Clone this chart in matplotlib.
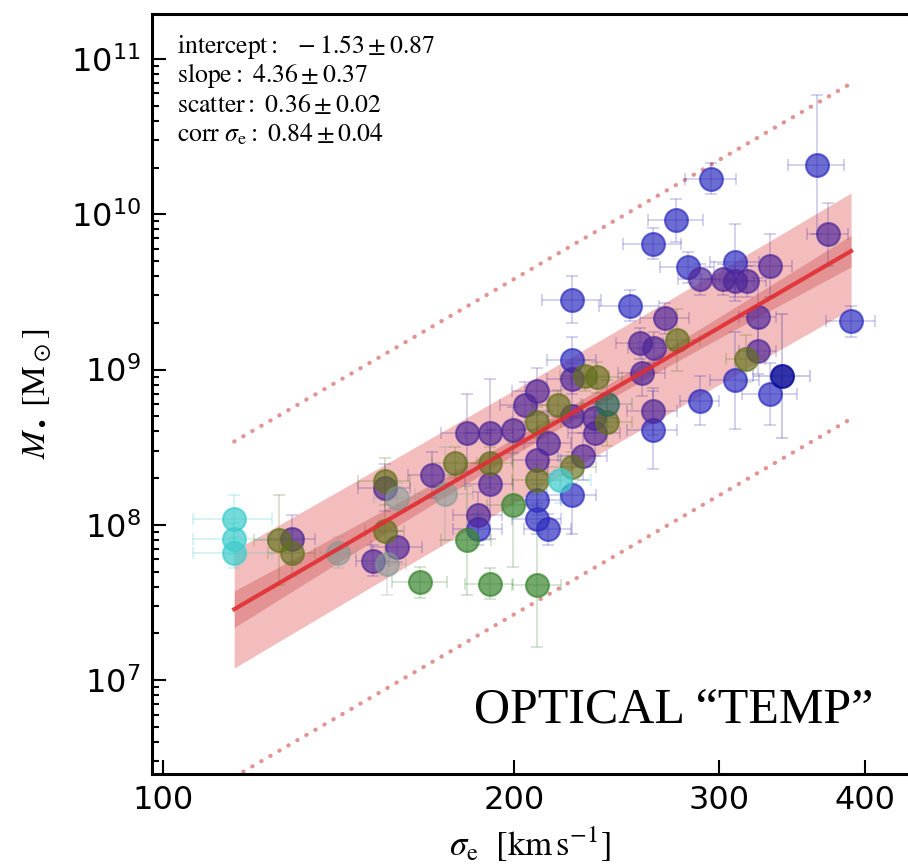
import numpy as np
import matplotlib.pyplot as plt
from matplotlib.ticker import FixedLocator, NullLocator, ScalarFormatter, LogLocator

plt.rcParams['font.family'] = ['DejaVu Sans']

# velocity dispersion [km/s], log10 black hole mass, errors and colour group per galaxy
sigma = [115.1, 115.1, 115.1, 125.8, 129.0, 129.0, 141.3, 155.0, 155.0, 158.7,
         155.0, 158.7, 151.4, 155.6, 166.2, 170.2, 178.0, 174.6, 190.7, 190.7,
         199.6, 186.3, 186.3, 182.3, 209.3, 209.3, 213.9, 209.3, 209.3, 190.7,
         209.3, 182.3, 190.7, 199.6, 209.3, 213.9, 229.2, 224.3, 219.0, 224.3,
         209.3, 204.4, 218.2, 240.3, 224.3, 234.2, 240.3, 234.7, 263.2, 263.2,
         224.3, 224.3, 230.1, 235.6, 257.5, 256.5, 263.7, 276.0, 269.5, 224.3,
         251.5, 263.2, 275.4, 295.1, 363.9, 371.8, 282.0, 309.4, 331.6, 288.7,
         302.2, 309.4, 316.9, 323.8, 389.2, 323.8, 316.2, 309.4, 339.6, 331.6,
         288.7]
log_mbh = [8.04, 7.91, 7.82, 7.90, 7.91, 7.82, 7.82, 8.28, 8.24, 8.17,
           7.96, 7.86, 7.77, 7.75, 7.63, 8.32, 8.40, 8.20, 8.40, 8.26,
           8.13, 8.06, 7.97, 7.90, 8.16, 8.04, 7.97, 8.42, 8.29, 7.62,
           7.61, 8.59, 8.59, 8.61, 8.66, 8.53, 8.44, 8.37, 8.29, 8.19,
           8.86, 8.77, 8.77, 8.78, 8.70, 8.69, 8.66, 8.59, 8.73, 8.61,
           9.06, 8.94, 8.96, 8.95, 8.98, 9.17, 9.14, 9.19, 9.33, 9.45,
           9.41, 9.81, 9.96, 10.23, 10.32, 9.87, 9.66, 9.69, 9.67, 9.58,
           9.58, 9.57, 9.57, 9.34, 9.31, 9.12, 9.07, 8.93, 8.96, 8.84,
           8.80]
sigma_err = [9, 9, 9, 6, 6, 6, 5, 8, 8, 7,
             6, 8, 5, 6, 9, 8, 8, 10, 9, 9,
             10, 9, 9, 9, 10, 10, 10, 10, 10, 9,
             10, 9, 9, 10, 10, 10, 11, 11, 14, 11,
             10, 10, 11, 12, 11, 11, 12, 12, 13, 13,
             11, 11, 11, 12, 12, 12, 13, 13, 13, 13,
             15, 15, 15, 15, 20, 15, 15, 15, 15, 12,
             12, 12, 12, 12, 19, 12, 12, 15, 19, 18,
             11]
log_mbh_err = [0.15, 0.10, 0.10, 0.29, 0.15, 0.15, 0.10, 0.15, 0.15, 0.10,
               0.20, 0.10, 0.10, 0.20, 0.10, 0.15, 0.10, 0.30, 0.10, 0.35,
               0.40, 0.15, 0.10, 0.35, 0.10, 0.10, 0.10, 0.30, 0.10, 0.10,
               0.40, 0.25, 0.35, 0.15, 0.10, 0.20, 0.15, 0.10, 0.15, 0.25,
               0.15, 0.15, 0.10, 0.15, 0.30, 0.10, 0.15, 0.15, 0.15, 0.25,
               0.15, 0.10, 0.10, 0.10, 0.15, 0.10, 0.10, 0.20, 0.10, 0.15,
               0.10, 0.10, 0.14, 0.10, 0.45, 0.20, 0.10, 0.25, 0.20, 0.10,
               0.10, 0.10, 0.10, 0.25, 0.10, 0.15, 0.15, 0.31, 0.40, 0.20,
               0.16]
group = ['C', 'C', 'C', 'O', 'P', 'O', 'Y', 'O', 'P', 'Y',
         'O', 'P', 'P', 'Y', 'G', 'P', 'O', 'Y', 'O', 'P',
         'G', 'P', 'B', 'G', 'B', 'B', 'B', 'P', 'O', 'G',
         'G', 'P', 'P', 'P', 'O', 'P', 'P', 'O', 'C', 'B',
         'P', 'P', 'O', 'T', 'P', 'P', 'O', 'P', 'P', 'B',
         'B', 'P', 'O', 'O', 'P', 'P', 'P', 'O', 'P', 'B',
         'B', 'B', 'B', 'B', 'B', 'P', 'B', 'B', 'P', 'P',
         'P', 'P', 'P', 'P', 'B', 'P', 'O', 'B', 'D', 'B',
         'B']

# fit results
intercept, intercept_err = -1.53, 0.87
slope, slope_err = 4.36, 0.37
scatter, scatter_err = 0.36, 0.02
corr, corr_err = 0.84, 0.04
pivot, pivot_err = 2.35, 0.05

colors = {
    'B': ((0.18, 0.18, 0.75), 0.70),
    'P': ((0.30, 0.15, 0.60), 0.68),
    'G': ((0.22, 0.52, 0.18), 0.70),
    'O': ((0.38, 0.44, 0.10), 0.66),
    'C': ((0.25, 0.80, 0.80), 0.72),
    'Y': ((0.50, 0.60, 0.58), 0.55),
    'D': ((0.05, 0.05, 0.60), 0.85),
    'T': ((0.15, 0.40, 0.35), 0.70),
}

sigma = np.array(sigma)
log_mbh = np.array(log_mbh)
sigma_err = np.array(sigma_err)
log_mbh_err = np.array(log_mbh_err)
group = np.array(group)
mbh = 10 ** log_mbh

fig = plt.figure(figsize=(9.08, 8.68), dpi=100)
ax = fig.add_axes([152 / 908, 94 / 868, 756 / 908, 760 / 868])
ax.set_xscale('log')
ax.set_yscale('log')

# fit line, intrinsic scatter band and 3-sigma lines
lx = np.linspace(np.log10(sigma.min()), np.log10(sigma.max()), 200)
ly = intercept + slope * lx
fit_w = np.sqrt(pivot_err ** 2 + (slope_err * (lx - pivot)) ** 2)
tot_w = np.sqrt(scatter ** 2 + fit_w ** 2)
red = (0.86, 0.2, 0.2)
ax.fill_between(10 ** lx, 10 ** (ly - tot_w), 10 ** (ly + tot_w), color=red, alpha=0.32, lw=0, zorder=1)
ax.fill_between(10 ** lx, 10 ** (ly - fit_w), 10 ** (ly + fit_w), color=(0.75, 0.2, 0.2), alpha=0.3, lw=0, zorder=1)
for k in (-3, 3):
    ax.plot(10 ** lx, 10 ** (ly + k * scatter), color=(0.85, 0.4, 0.4), lw=3,
            linestyle=(0, (0.1, 2.4)), dash_capstyle='round', alpha=0.7, zorder=2)

for g, (c, a) in colors.items():
    m = group == g
    ylo = mbh[m] - 10 ** (log_mbh[m] - log_mbh_err[m])
    yhi = 10 ** (log_mbh[m] + log_mbh_err[m]) - mbh[m]
    ax.errorbar(sigma[m], mbh[m], xerr=sigma_err[m], yerr=[ylo, yhi], fmt='none',
                ecolor=c, alpha=0.25, elinewidth=1.2, capsize=4, capthick=1.2, zorder=3)
    ax.plot(sigma[m], mbh[m], 'o', ms=16.5, color=c, mec=c, mew=1.5, alpha=a, zorder=4)

ax.plot(10 ** lx, 10 ** ly, color=(0.88, 0.18, 0.2), lw=3, alpha=0.9, zorder=5)

ax.set_xlim(97.85, 435.5)
ax.set_ylim(10 ** 6.395, 10 ** 11.29)
ax.xaxis.set_major_locator(FixedLocator([100, 200, 300, 400]))
ax.xaxis.set_major_formatter(ScalarFormatter())
ax.xaxis.set_minor_locator(NullLocator())
ax.yaxis.set_major_locator(LogLocator(base=10, numticks=10))
ax.yaxis.set_minor_locator(LogLocator(base=10, subs=np.arange(2, 10), numticks=20))

ax.tick_params(which='both', direction='in', top=False, right=False, width=1.5, labelsize=23)
ax.tick_params(which='major', length=10, pad=8)
ax.tick_params(which='minor', length=5)
for s in ax.spines.values():
    s.set_linewidth(2.2)
ax.spines['right'].set_visible(False)

ax.set_xlabel(r'$\sigma_\mathrm{e}\ \ [\mathrm{km\,s^{-1}}]$', fontsize=25, math_fontfamily='stix', labelpad=6)
ax.set_ylabel(r'$M_\bullet\ [\mathrm{M}_\odot]$', fontsize=24, math_fontfamily='stix', labelpad=12)

lines = [
    r'$\mathrm{intercept:}\ \ -1.53\pm0.87$',
    r'$\mathrm{slope:}\ 4.36\pm0.37$',
    r'$\mathrm{scatter:}\ 0.36\pm0.02$',
    r'$\mathrm{corr}\ \sigma_\mathrm{e}:\ 0.84\pm0.04$',
]
for i, t in enumerate(lines):
    ax.text(0.033, 0.957 - i * 0.0385, t, transform=ax.transAxes, fontsize=18.5,
            math_fontfamily='stix', va='center', ha='left')

ax.text(0.954, 0.068, 'OPTICAL \u201cTEMP\u201d', transform=ax.transAxes, fontsize=36,
        family=['Liberation Serif', 'DejaVu Serif'], ha='right', va='baseline')

fig.savefig('out.png', dpi=100)
